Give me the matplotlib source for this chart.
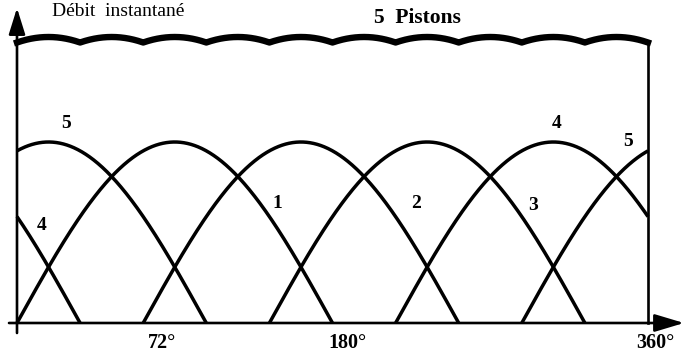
import numpy as np
import matplotlib
matplotlib.use("Agg")
import matplotlib.pyplot as plt

# Piston phase offsets (degrees) and the stroke length during which each one delivers flow
piston_names = ["1", "2", "3", "4", "5"]
piston_phase = [0, 72, 144, 216, 288]
stroke_deg = 180
axis_labels = ["72°", "180°", "360°"]
title_left = "Débit  instantané"
title_main = "5  Pistons"

W, H = 688, 354
fig = plt.figure(figsize=(W / 100, H / 100), dpi=100)

# Main axes: angle (deg) vs. individual piston flow (unit amplitude)
ax = fig.add_axes([0, 0, 1, 1])
x0_px, x360_px, y0_px, y1_px = 17, 648, 323, 142
ppd = (x360_px - x0_px) / 360.0
amp = y0_px - y1_px
ax.set_xlim(-x0_px / ppd, 360 + (W - x360_px) / ppd)
ax.set_ylim(-(H - y0_px) / amp, y0_px / amp)
ax.axis("off")

theta = np.linspace(0, 360, 1441)
total = np.zeros_like(theta)
for ph in piston_phase:
    local = (theta - ph) % 360
    flow = np.where(local <= stroke_deg, np.sin(np.radians(local)), 0.0)
    total += flow
    drawn = np.where(local <= stroke_deg, flow, np.nan)
    ax.plot(theta, drawn, color="black", lw=2.5, solid_capstyle="butt")

# Overlay axes for the summed (instantaneous) flow, drawn near the top
ov = fig.add_axes([0, 0, 1, 1])
ov.set_xlim(ax.get_xlim())
q_hi, q_lo = total.max(), total.min()
px_hi, px_lo = 37.0, 42.5
scale = (px_lo - px_hi) / (q_hi - q_lo)
ov_top = q_hi + px_hi / scale
ov.set_ylim(ov_top - H / scale, ov_top)
ov.axis("off")
ov.patch.set_alpha(0)
ov.plot(theta, total, color="black", lw=4.6, solid_joinstyle="round")

# Right-hand closing line at 360 deg, from the baseline up to the summed curve
base_disp = ax.transData.transform((360, 0))
base_ov = ov.transData.inverted().transform(base_disp)[1]
ov.plot([360, 360], [base_ov, total[-1]], color="black", lw=1.9)

# Axes with arrows
ax.annotate("", xy=(0, (y0_px - 8) / amp), xytext=(0, -10 / amp),
            arrowprops=dict(arrowstyle="-|>,head_length=0.8,head_width=0.25",
                            mutation_scale=20, lw=1.9, color="black",
                            shrinkA=0, shrinkB=0))
ax.annotate("", xy=((684 - x0_px) / ppd, 0), xytext=((9 - x0_px) / ppd, 0),
            arrowprops=dict(arrowstyle="-|>,head_length=0.9,head_width=0.27",
                            mutation_scale=20, lw=1.9, color="black",
                            shrinkA=0, shrinkB=0))

serif = ["Liberation Serif", "DejaVu Serif"]

def fig_text(px, py, s, **kw):
    fig.text(px / W, 1 - py / H, s, family=serif, color="black", **kw)

fig_text(52, 12, title_left, fontsize=14, ha="left", va="center")
fig_text(417, 18, title_main, fontsize=15.5, fontweight="bold", ha="center", va="center")

for lab, px in zip(axis_labels, [162, 347, 655]):
    fig_text(px, 352.5, lab, fontsize=14.5, fontweight="bold", ha="center", va="bottom")

# Piston numbers next to their curves
tags = [("5", 66, 123), ("4", 42, 226), ("1", 277, 204), ("2", 416, 204),
        ("3", 533, 205), ("4", 557, 123), ("5", 628, 141)]
for s, px, py in tags:
    fig_text(px, py, s, fontsize=14, fontweight="bold", ha="center", va="center")

fig.savefig("out.png", dpi=100, facecolor="white")
